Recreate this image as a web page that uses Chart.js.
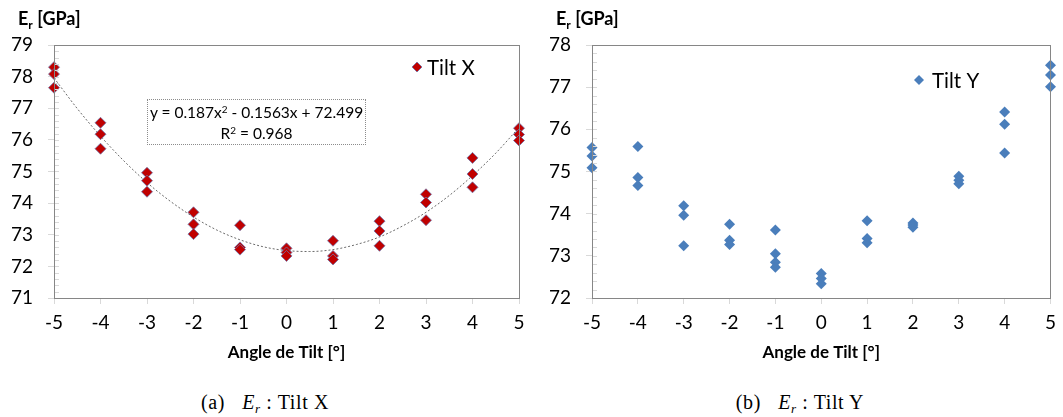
<!DOCTYPE html>
<html>
<head>
<meta charset="utf-8">
<script src="https://cdn.jsdelivr.net/npm/chart.js@4.4.1/dist/chart.umd.min.js"></script>
<style>
body{margin:0;background:#fff;width:1063px;height:417px;overflow:hidden;position:relative;font-family:Lato,sans-serif;color:#000}
.box{position:absolute;top:0}
.ytitle{position:absolute;top:7px;font-weight:700;font-size:18px;line-height:22px}
.ytitle sub{font-size:12px;vertical-align:-4px;line-height:0}
.eq{position:absolute;left:147px;top:99px;width:219px;height:46px;border:1px dotted #8c8c8c;box-sizing:border-box;text-align:center;font-size:15.5px;line-height:21px;padding-top:2px}
.eq sup{font-size:10px;vertical-align:5px;line-height:0}
.cap{position:absolute;top:391px;font-family:"Liberation Serif",serif;font-size:20px;letter-spacing:0.6px;width:300px;text-align:center}
.cap i{margin-left:6px}
.cap sub{font-size:13px;vertical-align:-4px;line-height:0}
</style>
</head>
<body>
<div class="box" style="left:0;width:540px;height:370px"><canvas id="cx"></canvas></div>
<div class="box" style="left:540px;width:523px;height:370px"><canvas id="cy"></canvas></div>
<div class="ytitle" style="left:18px">E<sub>r</sub> [GPa]</div>
<div class="ytitle" style="left:556px">E<sub>r</sub> [GPa]</div>
<div class="eq">y = 0.187x<sup>2</sup> - 0.1563x + 72.499<br>R<sup>2</sup> = 0.968</div>
<div class="cap" style="left:115px">(a)&nbsp; <i>E<sub>r</sub></i> : Tilt X</div>
<div class="cap" style="left:650px">(b)&nbsp; <i>E<sub>r</sub></i> : Tilt Y</div>
<script>
// valeurs
const xTicks = [-5,-4,-3,-2,-1,0,1,2,3,4,5];

const tiltXAngles = [-5,-5,-5,-4,-4,-4,-3,-3,-3,-2,-2,-2,-1,-1,-1,0,0,0,1,1,1,2,2,2,3,3,3,4,4,4,5,5,5];
const tiltXEr = [78.30,78.08,77.65, 76.54,76.18,75.72, 74.96,74.71,74.36, 73.71,73.33,73.02,
                 73.30,72.60,72.53, 72.57,72.44,72.33, 72.81,72.33,72.22, 73.43,73.12,72.65,
                 74.28,74.02,73.46, 75.43,74.92,74.50, 76.37,76.17,75.98];

// courbe de tendance (poly. ordre 2), relevée tous les 0.5°
const trendAngles = [-5,-4.5,-4,-3.5,-3,-2.5,-2,-1.5,-1,-0.5,0,0.5,1,1.5,2,2.5,3,3.5,4,4.5,5];
const trendEr = [77.96,76.99,76.12,75.34,74.65,74.06,73.56,73.15,72.84,72.62,72.50,72.47,72.53,72.69,72.93,73.28,73.71,74.24,74.87,75.58,76.39];

const tiltYAngles = [-5,-5,-5,-4,-4,-4,-3,-3,-3,-2,-2,-2,-1,-1,-1,-1,0,0,0,1,1,1,2,2,2,3,3,3,4,4,4,5,5,5];
const tiltYEr = [75.57,75.37,75.09, 75.59,74.86,74.67, 74.19,73.96,73.24, 73.75,73.37,73.27,
                 73.61,73.05,72.85,72.73, 72.58,72.46,72.34, 73.83,73.41,73.31, 73.78,73.73,73.68,
                 74.89,74.79,74.71, 76.41,76.12,75.44, 77.52,77.29,77.01];

const pts = (xs, ys) => xs.map((x,i)=>({x, y:ys[i]}));

const AXIS = "#868686", TICK = "#d9d9d9";
const FONT = "Lato, sans-serif";

// cadre, petites graduations intérieures et légende dans la zone de tracé
const frame = {
  id:"frame",
  afterDraw(c){
    const {ctx, chartArea:a} = c;
    const y = c.scales.y;
    ctx.save();
    ctx.strokeStyle = TICK; ctx.lineWidth = 1;
    for(let v=y.min; v<=y.max+1e-9; v+=0.2){
      const py = Math.round(y.getPixelForValue(v))+0.5;
      ctx.beginPath(); ctx.moveTo(a.left, py); ctx.lineTo(a.left+5, py); ctx.stroke();
    }
    ctx.strokeStyle = AXIS;
    ctx.strokeRect(Math.round(a.left)+0.5, Math.round(a.top)+0.5, Math.round(a.right-a.left), Math.round(a.bottom-a.top));

    const lg = c.options.plugins.frame, ds = c.data.datasets[0];
    ctx.fillStyle = ds.backgroundColor; ctx.strokeStyle = ds.borderColor; ctx.lineWidth = ds.borderWidth||0.01;
    Chart.helpers.drawPoint(ctx, {pointStyle:"rectRot", radius:5, borderWidth:ds.borderWidth||0, rotation:0},
      a.left+lg.dx, a.top+lg.dy);
    ctx.fillStyle = "#000"; ctx.font = "20.5px " + FONT; ctx.textBaseline = "middle";
    ctx.fillText(ds.label, a.left+lg.dx+lg.gap, a.top+lg.dy+1);
    ctx.restore();
  }
};

function makeChart(id, datasets, ymin, ymax, yWidth, pad, legendPos){
  return new Chart(document.getElementById(id), {
    type:"scatter",
    data:{datasets},
    options:{
      responsive:true, maintainAspectRatio:false, animation:false,
      layout:{padding:pad},
      plugins:{legend:{display:false}, tooltip:{enabled:false}, frame:legendPos},
      scales:{
        x:{type:"linear", min:-5, max:5,
           afterBuildTicks:s=>{ s.ticks = xTicks.map(v=>({value:v})); },
           afterFit:s=>{ s.height = 72; },
           grid:{drawOnChartArea:false, drawTicks:true, tickLength:6, color:TICK},
           border:{color:AXIS},
           ticks:{color:"#000", padding:7, font:{family:FONT, size:19}, maxRotation:0},
           title:{display:true, text:"Angle de Tilt [°]", color:"#000", padding:{top:0,bottom:7},
                  font:{family:FONT, size:17, weight:"bold"}}},
        y:{min:ymin, max:ymax,
           afterFit:s=>{ s.width = yWidth; },
           grid:{drawOnChartArea:false, drawTicks:true, tickLength:6, color:TICK},
           border:{color:AXIS},
           ticks:{stepSize:1, color:"#000", padding:15, font:{family:FONT, size:19}}}
      }
    },
    plugins:[frame]
  });
}

makeChart("cx", [
  {label:"Tilt X", data:pts(tiltXAngles, tiltXEr), pointStyle:"rectRot", pointRadius:5.5,
   backgroundColor:"#c00000", borderColor:"#6f74a8", borderWidth:0.8, clip:false},
  {label:"Tendance", data:pts(trendAngles, trendEr), type:"line", showLine:true, pointRadius:0,
   borderColor:"#6a6a6a", borderWidth:1, borderDash:[2,2], fill:false, cubicInterpolationMode:"monotone"}
], 71, 79, 54, {top:45, right:21, left:0, bottom:0}, {dx:363, dy:22, gap:10});

makeChart("cy", [
  {label:"Tilt Y", data:pts(tiltYAngles, tiltYEr), pointStyle:"rectRot", pointRadius:5.5,
   backgroundColor:"#4a7ebb", borderColor:"#4a7ebb", borderWidth:0, clip:false}
], 72, 78, 52, {top:45, right:6, left:0, bottom:0}, {dx:327, dy:35, gap:13});
</script>
</body>
</html>
